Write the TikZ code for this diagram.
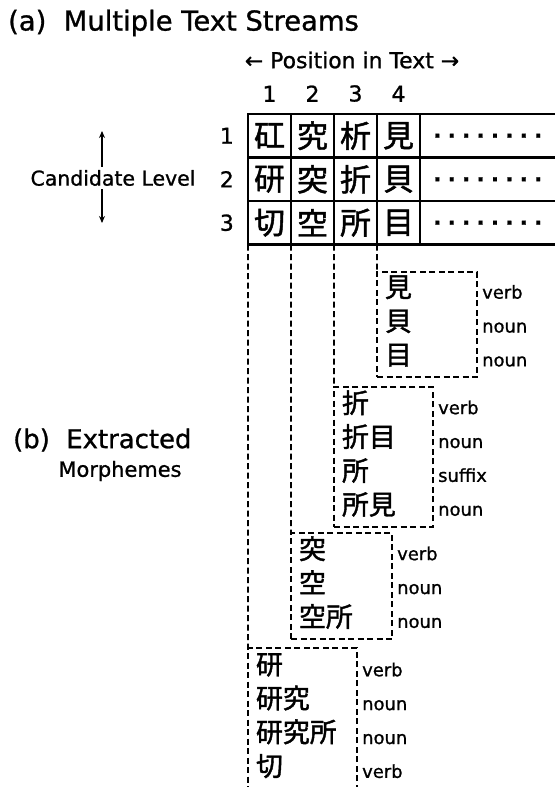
\documentclass[tikz,border=0pt]{standalone}
\usepackage{fontspec}
\setmainfont{DejaVu Sans}[FakeBold=1]
\newfontfamily\cjk{Noto Sans CJK JP}[FakeBold=1.5]
\usetikzlibrary{arrows.meta, positioning}
\newcommand{\mstrut}{\rule[-9bp]{0pt}{24bp}}
\newcommand{\dotrow}{\makebox[115.2bp][s]{\xleaders\hbox to 14.4bp{\hss.\hss}\hfill}}
\tikzset{
  cell/.style={
    draw,
    line width=2.4bp,
    outer sep=0pt,
    inner sep=0pt,
    minimum width=43bp,
    minimum height=43.5bp,
    font=\cjk\fontsize{31}{31}\selectfont
  },
  num/.style={inner sep=0pt, font=\fontsize{22}{22}\selectfont},
  rule/.style={line width=2.4bp},
  dotline/.style={inner sep=0pt, font=\bfseries\fontsize{21}{21}\selectfont},
  link/.style={dash pattern=on 6bp off 3.5bp, line width=1.8bp},
  morph/.style={
    draw,
    dash pattern=on 6bp off 3.5bp,
    line width=1.8bp,
    outer sep=0pt,
    anchor=north west,
    align=left,
    inner xsep=8bp,
    font=\cjk\fontsize{27}{34}\selectfont
  },
  tag/.style={align=left, inner sep=0pt, font=\fontsize{18}{34}\selectfont},
  levelarrow/.style={-{Stealth[length=7bp, width=6bp]}, line width=1.5bp}
}
\begin{document}
\begin{tikzpicture}[x=1bp, y=-1bp]
  \useasboundingbox (0,0) rectangle (555,787);

  % (a) the text streams
  \node[anchor=west, inner sep=0pt, font=\fontsize{27.5}{27.5}\selectfont] (heada) at (8,23) {(a)\ \ Multiple Text Streams};
  \node[inner sep=0pt, font=\fontsize{22}{22}\selectfont] (pos) at (352,60) {← Position in Text →};

  \node[cell] (c11) at (269.5,135.75) {矼};
  \node[cell, right=0pt of c11] (c12) {究};
  \node[cell, right=0pt of c12] (c13) {析};
  \node[cell, right=0pt of c13] (c14) {見};
  \node[cell, below=0pt of c11] (c21) {研};
  \node[cell, right=0pt of c21] (c22) {突};
  \node[cell, right=0pt of c22] (c23) {折};
  \node[cell, right=0pt of c23] (c24) {貝};
  \node[cell, below=0pt of c21] (c31) {切};
  \node[cell, right=0pt of c31] (c32) {空};
  \node[cell, right=0pt of c32] (c33) {所};
  \node[cell, right=0pt of c33] (c34) {目};

  \node[num, above=12bp of c11] (p1) {1};
  \node[num, above=12bp of c12] (p2) {2};
  \node[num, above=12bp of c13] (p3) {3};
  \node[num, above=12bp of c14] (p4) {4};

  \node[num, left=14bp of c11] (l1) {1};
  \node[num, left=14bp of c21] (l2) {2};
  \node[num, left=14bp of c31] (l3) {3};

  \node[font=\fontsize{20.5}{20.5}\selectfont] (cand) at (113,178) {Candidate Level};
  \coordinate (uptip) at (102,131);
  \coordinate (downtip) at (102,223);
  \draw[levelarrow] (cand.north -| uptip) -- (uptip);
  \draw[levelarrow] (cand.south -| downtip) -- (downtip);

  % rest of each stream
  \coordinate (edge) at (560,0);
  \draw[rule] (c14.north east) -- (c14.north east -| edge);
  \draw[rule] (c24.north east) -- (c24.north east -| edge);
  \draw[rule] (c34.north east) -- (c34.north east -| edge);
  \draw[rule] (c34.south east) -- (c34.south east -| edge);
  \node[dotline, right=10bp of c14] (d1) {\dotrow};
  \node[dotline, right=10bp of c24] (d2) {\dotrow};
  \node[dotline, right=10bp of c34] (d3) {\dotrow};

  % (b) the morphemes found at each position
  \node[anchor=west, inner sep=0pt, font=\fontsize{26}{26}\selectfont] (headb) at (13,440) {(b)\ \ Extracted};
  \node[inner sep=0pt, font=\fontsize{21}{21}\selectfont] (morph) at (120,471) {Morphemes};

  \node[morph, text width=84bp, minimum height=103bp] (m4) at (377,272) {\mstrut 見\\貝\\目\mstrut};
  \node[morph, text width=83bp, minimum height=136bp] (m3) at (334,387) {\mstrut 折\\折目\\所\\所見\mstrut};
  \node[morph, text width=85bp, minimum height=105bp] (m2) at (291,533) {\mstrut 突\\空\\空所\mstrut};
  \node[morph, text width=93bp, minimum height=176bp] (m1) at (248,648) {\mstrut 研\\研究\\研究所\\切\\\mstrut};

  \node[tag, right=5bp of m4, yshift=-5bp] (t4) {\mstrut verb\\noun\\noun\mstrut};
  \node[tag, right=5bp of m3, yshift=-5bp] (t3) {\mstrut verb\\noun\\suffix\\noun\mstrut};
  \node[tag, right=5bp of m2, yshift=-5bp] (t2) {\mstrut verb\\noun\\noun\mstrut};
  \node[tag, right=5bp of m1, yshift=-5bp] (t1) {\mstrut verb\\noun\\noun\\verb\\\mstrut};

  \draw[link] (c31.south west) -- (m1.north west);
  \draw[link] (c32.south west) -- (m2.north west);
  \draw[link] (c33.south west) -- (m3.north west);
  \draw[link] (c34.south west) -- (m4.north west);
\end{tikzpicture}
\end{document}
